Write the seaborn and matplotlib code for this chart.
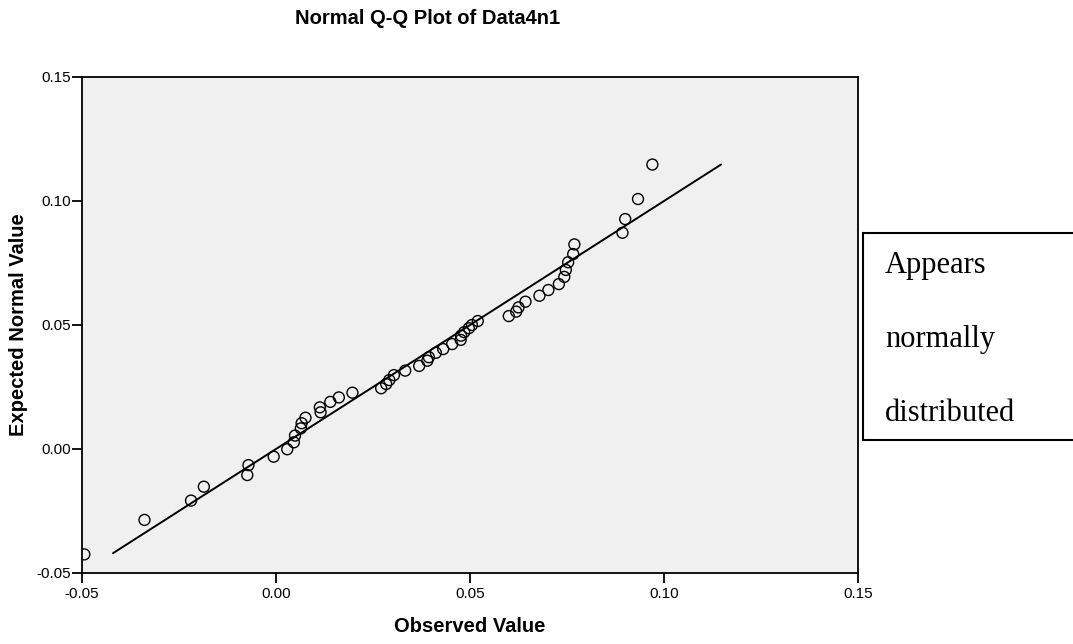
import matplotlib
matplotlib.use("Agg")
import numpy as np
import pandas as pd
import seaborn as sns
from matplotlib import pyplot as plt
from matplotlib.patches import Rectangle

# values
observed = [
    -0.0494, -0.0339, -0.0219, -0.0186, -0.0071, -0.0074, -0.0006, 0.0029, 0.0046, 0.0049,
    0.0064, 0.0066, 0.0076, 0.0115, 0.0113, 0.0140, 0.0162, 0.0197, 0.0271, 0.0284,
    0.0292, 0.0304, 0.0333, 0.0369, 0.0390, 0.0394, 0.0412, 0.0431, 0.0454, 0.0476,
    0.0477, 0.0485, 0.0497, 0.0505, 0.0520, 0.0600, 0.0619, 0.0625, 0.0643, 0.0679,
    0.0702, 0.0729, 0.0743, 0.0747, 0.0753, 0.0766, 0.0769, 0.0893, 0.0900, 0.0933,
    0.0970,
]
expected = [
    -0.0425, -0.0286, -0.0208, -0.0152, -0.0065, -0.0105, -0.0031, -0.0001, 0.0027, 0.0054,
    0.0083, 0.0104, 0.0126, 0.0148, 0.0168, 0.0190, 0.0208, 0.0227, 0.0245, 0.0262,
    0.0278, 0.0298, 0.0316, 0.0335, 0.0356, 0.0370, 0.0388, 0.0403, 0.0423, 0.0440,
    0.0457, 0.0471, 0.0487, 0.0500, 0.0516, 0.0536, 0.0554, 0.0571, 0.0594, 0.0618,
    0.0641, 0.0665, 0.0694, 0.0722, 0.0753, 0.0786, 0.0825, 0.0872, 0.0927, 0.1008,
    0.1147,
]
ticks = [-0.05, 0.00, 0.05, 0.10, 0.15]
tick_labels = ["-0.05", "0.00", "0.05", "0.10", "0.15"]
note_lines = ["Appears", "normally", "distributed"]

df = pd.DataFrame({"observed": observed, "expected": expected})
ref = pd.DataFrame({"x": [min(expected) + 0.0005, max(expected)],
                    "y": [min(expected) + 0.0005, max(expected)]})

sns.set_style("ticks")
plt.rcParams["font.family"] = ["Liberation Sans", "DejaVu Sans"]
plt.rcParams["text.color"] = "black"
plt.rcParams["axes.labelcolor"] = "black"

fig = plt.figure(figsize=(10.73, 6.44), dpi=100)
W, H = 1073, 644
ax = fig.add_axes([82 / W, 1 - 573 / H, (858 - 82) / W, (573 - 77) / H])
ax.set_facecolor("#f0f0f0")

sns.lineplot(data=ref, x="x", y="y", color="black", linewidth=1.4, ax=ax)
sns.scatterplot(data=df, x="observed", y="expected", marker="o", s=62,
                facecolor="none", edgecolor="black", linewidth=1.0, ax=ax, zorder=3)

ax.set_xlim(-0.05, 0.15)
ax.set_ylim(-0.05, 0.15)
ax.set_xticks(ticks, tick_labels, fontsize=11)
ax.set_yticks(ticks, tick_labels, fontsize=11)
ax.tick_params(direction="out", length=7, width=1.3, colors="black", labelcolor="black", pad=1)
ax.tick_params(axis="x", pad=3)
for s in ax.spines.values():
    s.set_visible(True)
    s.set_linewidth(1.3)
    s.set_color("black")

ax.set_xlabel("Observed Value", fontsize=14.5, fontweight="bold")
ax.set_ylabel("Expected Normal Value", fontsize=14.5, fontweight="bold")
ax.xaxis.set_label_coords(0.5, (573 - 626) / 496)
ax.xaxis.label.set_va("center")
ax.yaxis.set_label_coords((19 - 82) / 776, 0.5)
ax.yaxis.label.set_va("center")

fig.text(428 / W, 1 - 19 / H, "Normal Q-Q Plot of Data4n1", ha="center", va="center",
         fontsize=14.5, fontweight="bold")

fig.patches.append(Rectangle((863 / W, 1 - 440 / H), 0.3, (440 - 233) / H,
                             transform=fig.transFigure, facecolor="white",
                             edgecolor="black", linewidth=1.5, clip_on=False))
for i, line in enumerate(note_lines):
    fig.text(885 / W, 1 - (273 + 74 * i) / H, line, ha="left", va="baseline",
             fontsize=22, family=["Liberation Serif", "DejaVu Serif"])

fig.savefig("out.png", dpi=100)
